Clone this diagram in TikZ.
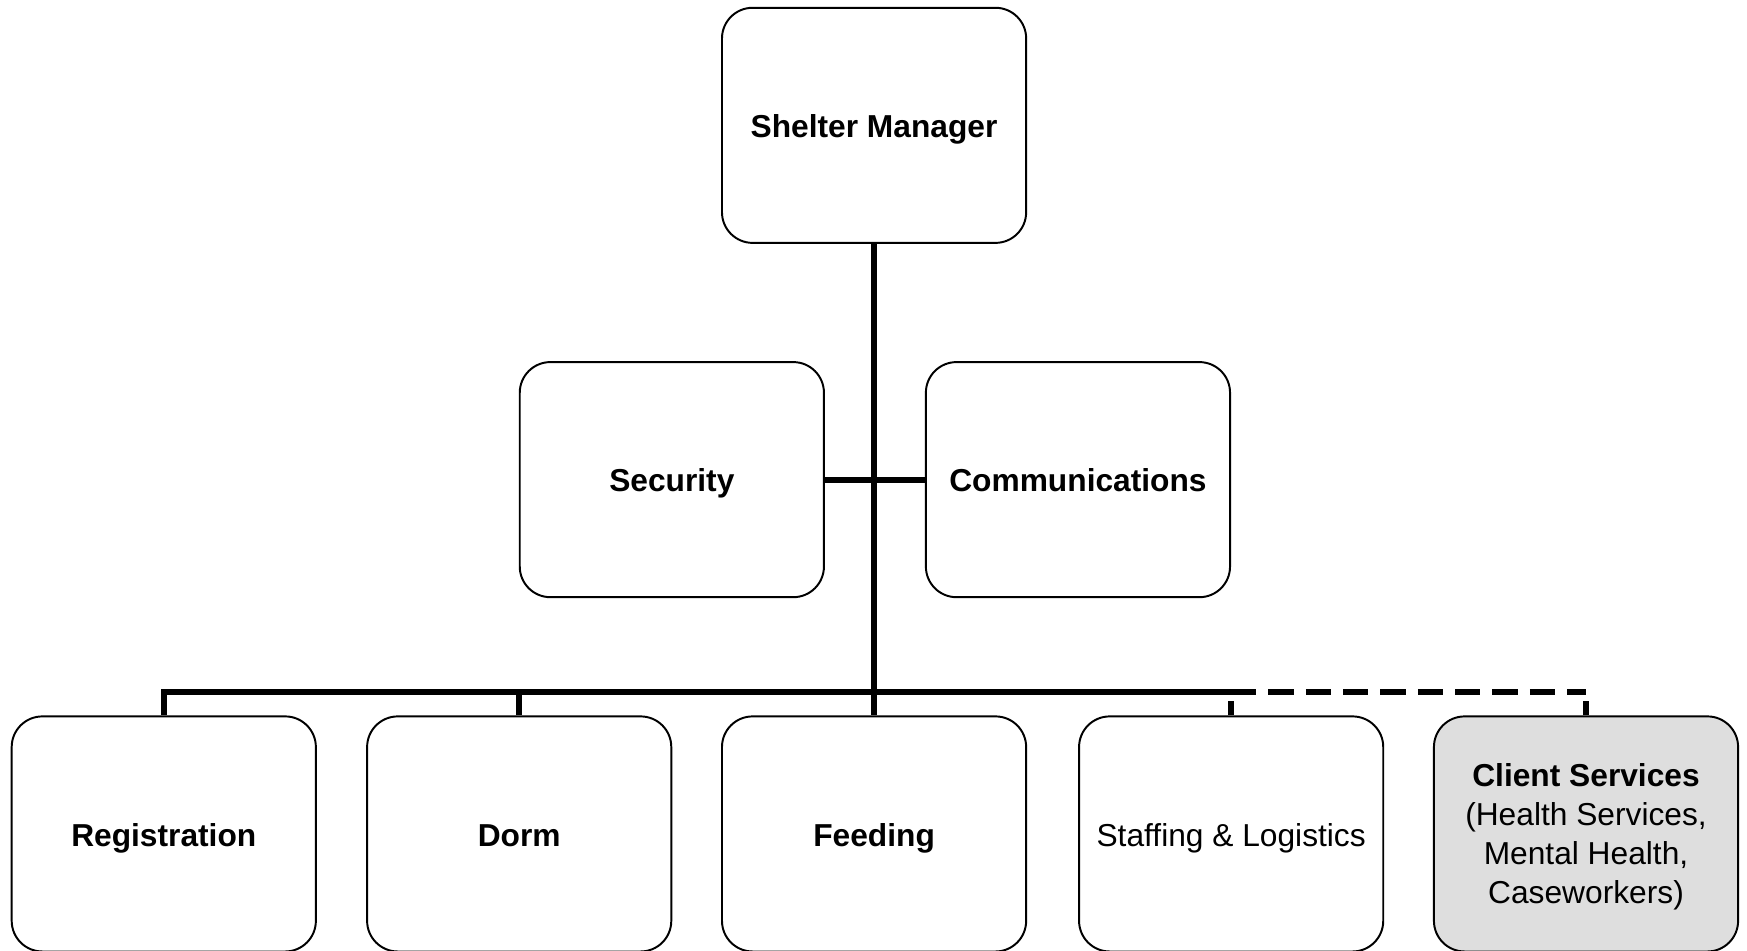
\documentclass[tikz,border=0pt]{standalone}
\usepackage{fontspec}
\setmainfont{Liberation Sans}
\usepackage{tikz}
\definecolor{ClientGray}{HTML}{DEDEDE}

\begin{document}
\begin{tikzpicture}[
  unit/.style={draw,line width=1pt,rounded corners=0.55cm,fill=white,
    minimum width=5.46cm,minimum height=4.22cm,inner sep=0pt,align=center,
    text height=12.5pt,text depth=0pt,
    font=\fontsize{16.2}{19.9}\selectfont},
  conn/.style={line width=3pt},
  dashes/.style={dash pattern=on 0.45cm off 0.22cm}]
  \useasboundingbox (0,0) rectangle (31.36,17.06);
  % top and middle tier
  \node[unit] (mgr) at (15.69,14.81) {\textbf{Shelter Manager}};
  \node[unit] (sec) at (12.06,8.45) {\textbf{Security}};
  \node[unit] (comm) at (19.35,8.45) {\textbf{Communications}};
  % bottom tier
  \node[unit] (reg) at (2.94,2.09) {\textbf{Registration}};
  \node[unit] (dorm) at (9.32,2.09) {\textbf{Dorm}};
  \node[unit] (feed) at (15.69,2.09) {\textbf{Feeding}};
  \node[unit] (staff) at (22.10,2.09) {Staffing \& Logistics};
  \node[unit,fill=ClientGray,text height=,text depth=0pt] (client) at (28.47,2.09)
    {\textbf{Client Services}\\(Health Services,\\Mental Health,\\Caseworkers)};
  \coordinate (bus) at (0,4.64);
  % reporting lines
  \draw[conn] (mgr.south) -- (feed.north);
  \draw[conn] (sec.east) -- (comm.west);
  \draw[conn] (reg.north) |- (bus -| staff.north);
  \draw[conn] (dorm.north) -- (dorm.north |- bus);
  % dotted-line report to client services
  \draw[conn,dashes] (bus -| staff.north) -- (bus -| client.north);
  \draw[conn,dashes,dash phase=0.19cm] (staff.north) -- (staff.north |- bus);
  \draw[conn,dashes,dash phase=0.19cm] (client.north) -- (client.north |- bus);
\end{tikzpicture}
\end{document}
